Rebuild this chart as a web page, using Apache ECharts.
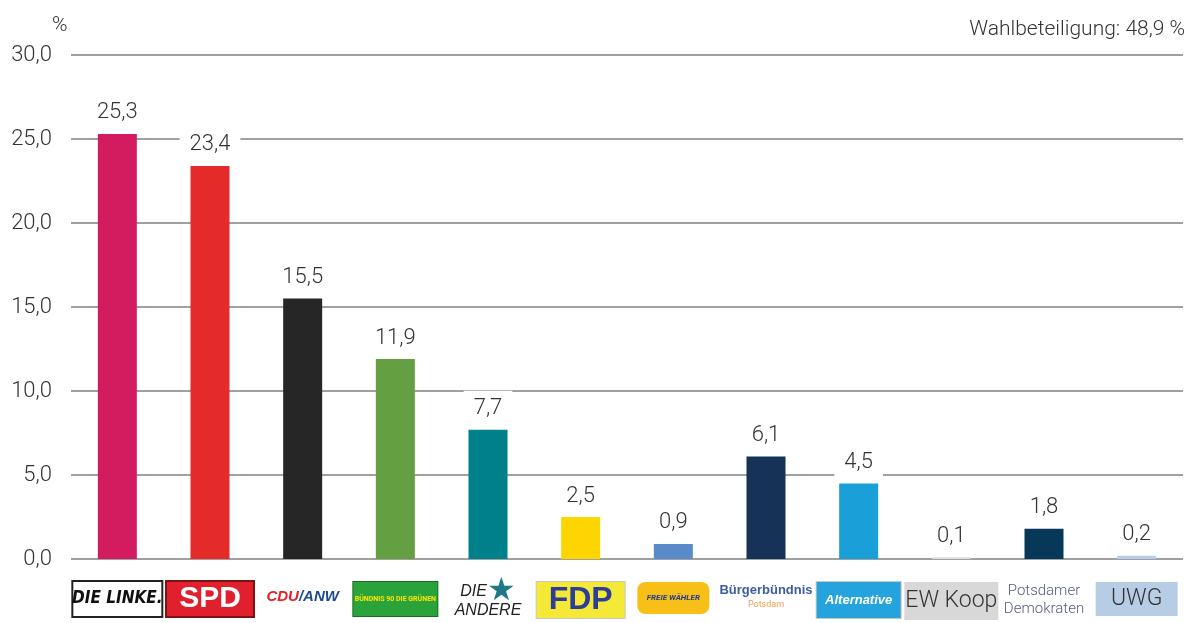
<!DOCTYPE html>
<html>
<head>
<meta charset="utf-8">
<script src="https://cdn.jsdelivr.net/npm/echarts@6/dist/echarts.min.js"></script>
<style>
  html, body { margin: 0; padding: 0; background: #fff; }
  #chart { width: 1195px; height: 623px; }
</style>
</head>
<body>
<div id="chart"></div>
<script>
  // Stimmenanteile in %
  var parties = ['linke', 'spd', 'cdu', 'gruene', 'andere', 'fdp', 'fw', 'bb', 'afd', 'ew', 'pd', 'uwg'];
  var values = [25.3, 23.4, 15.5, 11.9, 7.7, 2.5, 0.9, 6.1, 4.5, 0.1, 1.8, 0.2];
  var yTicks = [0, 5, 10, 15, 20, 25, 30];
  var turnout = 'Wahlbeteiligung: 48,9 %';

  var barColors = ['#d31b60', '#e52a2a', '#262626', '#64a041', '#00808a', '#ffd500',
                   '#588bc8', '#163256', '#1a9fd9', '#dcdcdc', '#073857', '#b7cce5'];

  // Logos als Text nachgebaut
  var logoText = {
    linke: '{linke|DIE LINKE.}',
    spd: '{spd|SPD}',
    cdu: '{cdu|CDU}{anw|/ANW}',
    gruene: '{gruene|BÜNDNIS 90 DIE GRÜNEN}',
    andere: '{andere|DIE}{star|★}\n{andere|ANDERE}',
    fdp: '{fdp|FDP}',
    fw: '{fw|FREIE WÄHLER}',
    bb: '{bb|Bürgerbündnis}\n{bbp|Potsdam}',
    afd: '{afd|Alternative}',
    ew: '{ew|EW Koop}',
    pd: '{pd|Potsdamer}\n{pd|Demokraten}',
    uwg: '{uwg|UWG}'
  };

  function comma(v) {
    return v.toFixed(1).replace('.', ',');
  }

  var font = 'Roboto';

  var chart = echarts.init(document.getElementById('chart'));
  chart.setOption({
    animation: false,
    textStyle: { fontFamily: font },
    title: [
      { text: '%', left: 47, top: 10,
        textStyle: { fontSize: 21, fontWeight: 300, color: '#333', fontFamily: font } },
      { text: turnout, right: 5, top: 14,
        textStyle: { fontSize: 21, fontWeight: 300, color: '#333', fontFamily: font } }
    ],
    grid: { left: 71, right: 12, top: 55, bottom: 64 },
    xAxis: {
      type: 'category',
      data: parties,
      axisLine: { show: false },
      axisTick: { show: false },
      axisLabel: {
        interval: 0,
        margin: 23,
        formatter: function (v) { return logoText[v]; },
        rich: {
          linke: { backgroundColor: '#fff', borderColor: '#222', borderWidth: 2, color: '#111',
                   fontSize: 17, fontWeight: 900, fontStyle: 'italic', fontFamily: 'DejaVu Sans Condensed',
                   width: 88, height: 34, align: 'center' },
          spd: { backgroundColor: '#e1202e', borderColor: '#7a1414', borderWidth: 2, color: '#fff',
                 fontSize: 30, fontWeight: 'bold', fontFamily: 'Liberation Sans',
                 width: 86, height: 34, align: 'center' },
          cdu: { color: '#e3202a', fontSize: 15, fontWeight: 900, fontStyle: 'italic',
                 fontFamily: 'Liberation Sans', height: 30 },
          anw: { color: '#1c4a8c', fontSize: 15, fontWeight: 900, fontStyle: 'italic',
                 fontFamily: 'Liberation Sans', height: 30 },
          gruene: { backgroundColor: '#2aa43a', borderColor: '#1b6e28', borderWidth: 1, color: '#ffe600',
                    fontSize: 7, fontWeight: 'bold', width: 84, height: 34, align: 'center' },
          andere: { color: '#222', fontSize: 16, fontStyle: 'italic', fontFamily: 'Liberation Sans',
                    lineHeight: 19 },
          star: { color: '#1f7a86', fontSize: 32, lineHeight: 19 },
          fdp: { backgroundColor: '#f4e936', borderColor: '#c8c8c8', borderWidth: 1, color: '#2e3d96',
                 fontSize: 32, fontWeight: 'bold', fontFamily: 'Liberation Sans',
                 width: 88, height: 36, align: 'center' },
          fw: { backgroundColor: '#f8bf18', borderRadius: 8, color: '#1f3e8a', fontSize: 8,
                fontWeight: 'bold', fontStyle: 'italic', width: 72, height: 32, align: 'center' },
          bb: { color: '#3c5e9e', fontSize: 13, fontWeight: 'bold', fontFamily: 'Liberation Sans',
                lineHeight: 17 },
          bbp: { color: '#f0a050', fontSize: 9, lineHeight: 12 },
          afd: { backgroundColor: '#24a3dc', borderColor: '#c8c8c8', borderWidth: 1, color: '#fff',
                 fontSize: 13, fontWeight: 'bold', fontStyle: 'italic', fontFamily: 'Liberation Sans',
                 width: 84, height: 36, align: 'center' },
          ew: { backgroundColor: '#d8d8d8', color: '#333', fontSize: 23, fontWeight: 300,
                width: 94, height: 38, align: 'center' },
          pd: { color: '#575c82', fontSize: 15, fontWeight: 300, lineHeight: 18 },
          uwg: { backgroundColor: '#b7cce5', color: '#333', fontSize: 23, fontWeight: 300,
                 width: 82, height: 34, align: 'center' }
        }
      }
    },
    yAxis: {
      type: 'value',
      min: yTicks[0],
      max: yTicks[yTicks.length - 1],
      interval: yTicks[1] - yTicks[0],
      axisLine: { show: false },
      axisTick: { show: false },
      axisLabel: {
        margin: 19,
        fontSize: 22,
        fontWeight: 300,
        color: '#333',
        formatter: function (v) { return comma(v); }
      },
      splitLine: { lineStyle: { color: '#a0a0a0', width: 2 } }
    },
    series: [{
      type: 'bar',
      barWidth: 39,
      data: values.map(function (v, i) {
        return { value: v, itemStyle: { color: barColors[i] } };
      }),
      label: {
        show: true,
        position: 'top',
        distance: 3,
        fontSize: 22,
        fontWeight: 300,
        color: '#333',
        backgroundColor: '#fff',
        padding: [7, 10],
        formatter: function (p) { return comma(p.value); }
      }
    }]
  });
</script>
</body>
</html>
